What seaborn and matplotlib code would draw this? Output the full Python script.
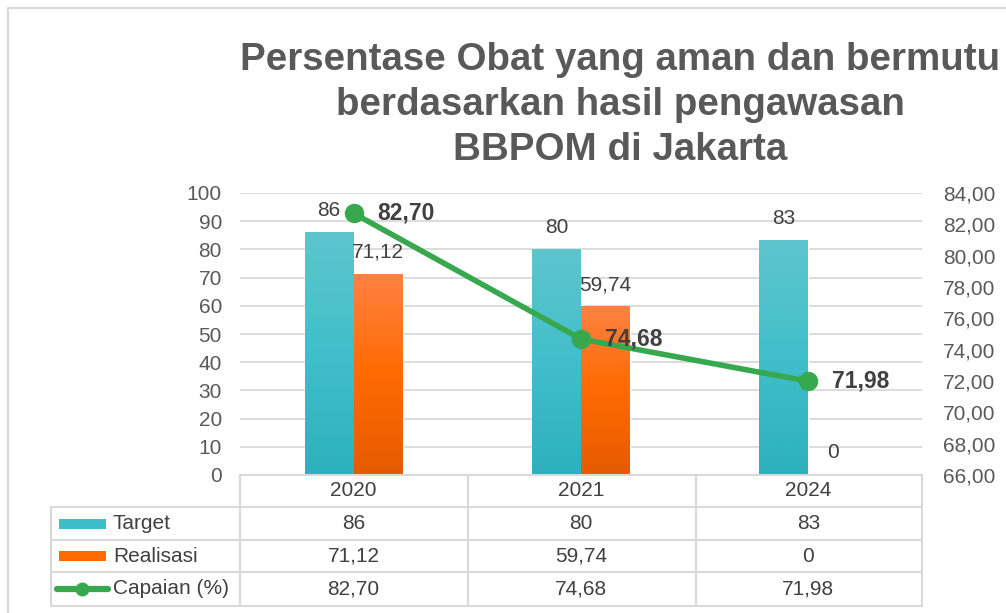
import numpy as np
import pandas as pd
import matplotlib.pyplot as plt
import matplotlib.transforms as mtransforms
from matplotlib.lines import Line2D
from matplotlib.patches import Rectangle
from matplotlib.colors import to_rgb
from matplotlib.ticker import FuncFormatter
import seaborn as sns

# data
years = ["2020", "2021", "2024"]
target = [86, 80, 83]
realisasi = [71.12, 59.74, 0]
capaian = [82.70, 74.68, 71.98]
series_names = ["Target", "Realisasi", "Capaian (%)"]
title = "Persentase Obat yang aman dan bermutu\nberdasarkan hasil pengawasan\nBBPOM di Jakarta"


def fmt(v, dec):
    if v == 0:
        return "0"
    return f"{v:.{dec}f}".replace(".", ",")


sns.set_theme(style="white")
plt.rcParams['font.family'] = ['Liberation Sans', 'DejaVu Sans']

W, H = 1006, 613
teal = "#3dbdc8"
orange = "#ff6a00"
green = "#38a84f"
grid_c = "#d9d9d9"
txt_c = "#404040"
tick_c = "#595959"

fig = plt.figure(figsize=(W / 100, H / 100), dpi=100)
ax = fig.add_axes([240 / W, 1 - 475 / H, (922 - 240) / W, (475 - 193) / H])

# bars ---------
df = pd.DataFrame({
    "Tahun": years * 2,
    "Seri": ["Target"] * len(years) + ["Realisasi"] * len(years),
    "Nilai": target + realisasi,
})
sns.barplot(data=df, x="Tahun", y="Nilai", hue="Seri",
            palette={"Target": teal, "Realisasi": orange},
            width=0.43, saturation=1, legend=False, ax=ax, zorder=2)

# gradient fill on the bars
def gradient(top, mid, bot, n=100):
    top, mid, bot = np.array(to_rgb(top)), np.array(to_rgb(mid)), np.array(to_rgb(bot))
    t = np.linspace(0, 1, n)[:, None]
    half = np.where(t < 0.5, top + (mid - top) * (t / 0.5), mid + (bot - mid) * ((t - 0.5) / 0.5))
    return half[:, None, :]

grad_t = gradient("#5ec5cd", "#40bfca", "#2eb0bd")
grad_o = gradient("#ff8142", "#ff6a00", "#e65b00")
for p in ax.patches:
    h = p.get_height()
    if h <= 0:
        continue
    fc = p.get_facecolor()[:3]
    g = grad_t if np.allclose(fc, to_rgb(teal), atol=0.02) else grad_o
    x0 = p.get_x()
    ax.imshow(g, extent=[x0, x0 + p.get_width(), 0, h], aspect='auto',
              interpolation='bilinear', zorder=2.1)

ax.set_xlim(-0.5, 2.5)
ax.set_ylim(0, 100)
ax.set_yticks(range(0, 101, 10))
ax.yaxis.grid(True, color=grid_c, lw=1.3)
ax.set_axisbelow(True)
ax.tick_params(axis='y', length=0, pad=13, labelsize=15, labelcolor=tick_c)
ax.set_xlabel("")
ax.set_ylabel("")
for s in ax.spines.values():
    s.set_visible(False)

ax.bar_label(ax.containers[0], labels=[fmt(v, 0) for v in target],
             padding=9, fontsize=15, color=txt_c)
ax.bar_label(ax.containers[1], labels=[fmt(v, 2) for v in realisasi],
             padding=9, fontsize=15, color=txt_c)

# line on secondary axis
ax2 = ax.twinx()
sns.pointplot(x=years, y=capaian, ax=ax2, color=green, markers='o',
              markersize=11, linewidth=4, errorbar=None)
ax2.set_ylim(66, 84)
ax2.set_yticks(np.arange(66, 84.1, 2))
ax2.yaxis.set_major_formatter(FuncFormatter(lambda v, _: fmt(v, 2)))
ax2.tick_params(axis='y', length=0, pad=15, labelsize=15, labelcolor=tick_c)
ax2.set_ylabel("")
ax2.set_xlabel("")
ax2.grid(False)
for s in ax2.spines.values():
    s.set_visible(False)
for i, v in enumerate(capaian):
    ax2.annotate(fmt(v, 2), (i, v), xytext=(17, 0), textcoords='offset points',
                 ha='left', va='center', fontsize=16.5, fontweight='bold', color=txt_c)

ax.set_xlim(-0.5, 2.5)
ax.set_xticks([])
ax2.set_xticks([])

# data table under the chart
px = mtransforms.Affine2D().scale(1 / W, -1 / H).translate(0, 1) + fig.transFigure
colx = mtransforms.blended_transform_factory(ax.transData, px)

def hline(x0, x1, y):
    fig.add_artist(Line2D([x0, x1], [y, y], color=grid_c, lw=1.5, transform=px))

def vline(x, y0, y1):
    fig.add_artist(Line2D([x, x], [y0, y1], color=grid_c, lw=1.5, transform=px))

row_edges = [475, 507, 540, 572, 606]
col_edges = [240, 468, 696, 922]
hline(240, 922, 475)
for y in row_edges[1:]:
    hline(51, 922, y)
for x in col_edges:
    vline(x, 475, 606)
vline(51, 507, 606)

row_mid = [(a + b) / 2 for a, b in zip(row_edges[:-1], row_edges[1:])]
for i, yr in enumerate(years):
    fig.text(i, row_mid[0], yr, transform=colx, ha='center', va='center', fontsize=15, color=txt_c)
    fig.text(i, row_mid[1], fmt(target[i], 0), transform=colx, ha='center', va='center', fontsize=15, color=txt_c)
    fig.text(i, row_mid[2], fmt(realisasi[i], 2), transform=colx, ha='center', va='center', fontsize=15, color=txt_c)
    fig.text(i, row_mid[3], fmt(capaian[i], 2), transform=colx, ha='center', va='center', fontsize=15, color=txt_c)

# legend keys in the first column
fig.add_artist(Rectangle((59, row_mid[1] + 5), 47, -10, facecolor=teal, edgecolor='none', transform=px))
fig.add_artist(Rectangle((59, row_mid[2] + 5), 47, -10, facecolor=orange, edgecolor='none', transform=px))
fig.add_artist(Line2D([57, 108], [row_mid[3], row_mid[3]], color=green, lw=4.5, transform=px))
fig.add_artist(Line2D([82.5], [row_mid[3]], color=green, marker='o', markersize=9, transform=px))
for r, name in enumerate(series_names):
    fig.text(113, row_mid[r + 1], name, transform=px, ha='left', va='center', fontsize=15, color=txt_c)

# title
fig.text(620 / W, 1 - 105 / H, title, ha='center', va='center', fontsize=27.7,
         fontweight='bold', color=tick_c, linespacing=1.33)

# outer chart frame
fig.add_artist(Line2D([8, 8, W], [H, 8, 8], color=grid_c, lw=1.5, transform=px))

fig.savefig("out.png", dpi=100)
